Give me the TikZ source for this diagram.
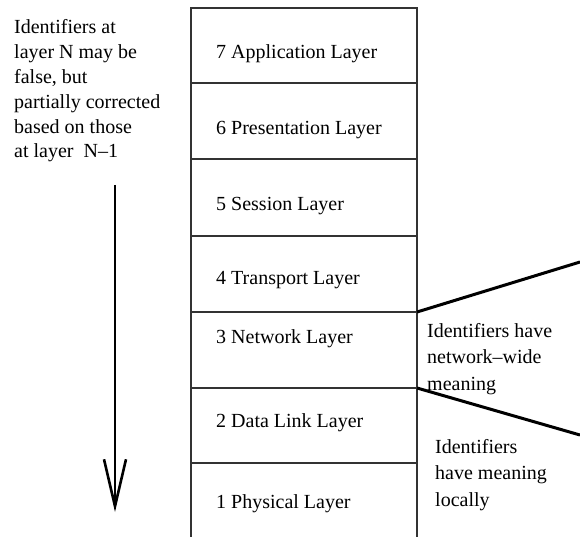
\documentclass[tikz,border=0pt]{standalone}
\usepackage{fontspec}
\setmainfont{Liberation Serif}
\usetikzlibrary{arrows.meta}
\begin{document}
\begin{tikzpicture}[x=1pt,y=-1pt,
  frame/.style={line width=1.1pt, draw=black!80},
  fan/.style={line width=3pt, line cap=butt},
  flow/.style={line width=2.6pt, -{Straight Barb[length=47pt,width=22pt]}},
  layer/.style={anchor=base west, inner sep=0pt, font=\fontsize{20}{24}\selectfont},
  note/.style={anchor=base west, inner sep=0pt},
]
\useasboundingbox (0,0) rectangle (580,537);

% protocol stack frame (open at the bottom)
\draw[frame] (191,537) -- (191,8) -- (417,8) -- (417,537);
\foreach \y in {83,159,236,312,388,463}
  \draw[frame] (191,\y) -- (417,\y);

% layer names
\node[layer] (l7) at (216,59)  {7 Application Layer};
\node[layer] (l6) at (216,135) {6 Presentation Layer};
\node[layer] (l5) at (216,211) {5 Session Layer};
\node[layer] (l4) at (216,284) {4 Transport Layer};
\node[layer] (l3) at (216,343) {3 Network Layer};
\node[layer] (l2) at (216,427) {2 Data Link Layer};
\node[layer] (l1) at (216,508) {1 Physical Layer};

% left-hand remark and downward arrow
\node[note] (remark) at (14,34) {\fontsize{20}{24.8}\selectfont
  \begin{tabular}[t]{@{}l@{}}Identifiers at\\ layer N may be\\ false, but\\
  partially corrected\\ based on those\\ at layer\ \ N\textendash1\end{tabular}};
\coordinate (arrTop) at (115,185);
\coordinate (arrTip) at (115,512);
\draw[flow] (arrTop) -- (arrTip);

% fan-out lines from the network layer boundaries
\coordinate (s34) at (417,312);
\coordinate (s23) at (417,388);
\coordinate (fanA) at (580,262);
\coordinate (fanB) at (580,435);
\draw[fan] (s34) -- (fanA);
\draw[fan] (s23) -- (fanB);

% right-hand remarks
\node[note] (wide) at (427,337) {\fontsize{20}{26.5}\selectfont
  \begin{tabular}[t]{@{}l@{}}Identifiers have\\ network\textendash wide\\ meaning\end{tabular}};
\node[note] (local) at (435,453) {\fontsize{20}{26.5}\selectfont
  \begin{tabular}[t]{@{}l@{}}Identifiers\\ have meaning\\ locally\end{tabular}};
\end{tikzpicture}
\end{document}
